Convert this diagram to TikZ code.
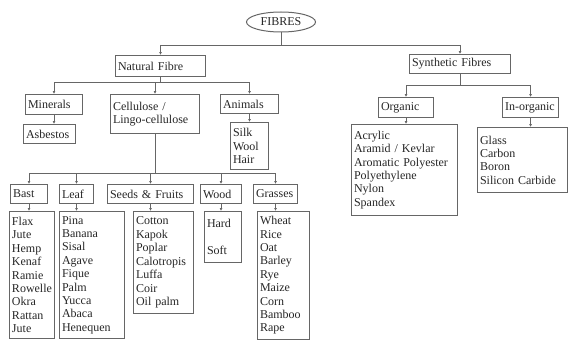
\documentclass[tikz,border=0pt]{standalone}
\usepackage{fontspec}
\setmainfont{Liberation Serif}
\usetikzlibrary{arrows.meta, shapes.geometric}

\begin{document}
\begin{tikzpicture}[x=1pt, y=-1pt, >={Latex[length=3pt, width=3pt]},
  box/.style={draw=black!60, line width=1pt, anchor=north west, align=left,
    inner xsep=2.5pt, inner ysep=1pt, font=\fontsize{12}{13.4}\selectfont, text=black!85},
  conn/.style={black!60, line width=0.8pt}]
  \useasboundingbox (0,0) rectangle (569,345);
  % raiz
  \node[ellipse, draw=black!60, line width=1pt, minimum width=69pt, minimum height=20pt,
    inner sep=0pt, font=\fontsize{12}{13.4}\selectfont, text=black!85] (fib) at (281,22) {FIBRES};
  % primer nivel
  \node[box, text width=85pt, minimum height=21pt] (nat) at (115,55) {Natural Fibre};
  \node[box, text width=96pt, minimum height=19pt] (syn) at (409,54) {Synthetic Fibres};
  % fibras naturales
  \node[box, text width=52pt, minimum height=20pt] (min) at (25,94) {Minerals};
  \node[box, text width=84pt, minimum height=39pt] (cel) at (110,94) {Cellulose /\\Lingo-cellulose};
  \node[box, text width=53pt, minimum height=19pt] (ani) at (220,94) {Animals};
  \node[box, text width=47pt, minimum height=19pt] (asb) at (23,124) {Asbestos};
  \node[box, text width=33pt, minimum height=47pt] (silk) at (230,122) {Silk\\Wool\\Hair};
  \node[box, text width=32pt, minimum height=19pt] (bast) at (10,184) {Bast};
  \node[box, text width=29pt, minimum height=19pt] (leaf) at (59,184) {Leaf};
  \node[box, text width=81pt, minimum height=19pt] (seed) at (107,184) {Seeds \& Fruits};
  \node[box, text width=36pt, minimum height=19pt] (wood) at (200,184) {Wood};
  \node[box, text width=39pt, minimum height=19pt] (gras) at (253,184) {Grasses};
  \node[box, text width=40pt, minimum height=127pt] (bastl) at (9,211)
    {Flax\\Jute\\Hemp\\Kenaf\\Ramie\\Rowelle\\Okra\\Rattan\\Jute};
  \node[box, text width=60pt, minimum height=127pt] (leafl) at (59,211)
    {Pina\\Banana\\Sisal\\Agave\\Fique\\Palm\\Yucca\\Abaca\\Henequen};
  \node[box, text width=55pt, minimum height=102pt] (seedl) at (133,211)
    {Cotton\\Kapok\\Poplar\\Calotropis\\Luffa\\Coir\\Oil palm};
  \node[box, text width=32pt, minimum height=51pt] (woodl) at (204,211) {Hard\\[13.4pt]Soft};
  \node[box, text width=47pt, minimum height=128pt] (grasl) at (257,211)
    {Wheat\\Rice\\Oat\\Barley\\Rye\\Maize\\Corn\\Bamboo\\Rape};
  % fibras sinteticas
  \node[box, text width=50pt, minimum height=20pt] (org) at (378,97) {Organic};
  \node[box, text width=51pt, minimum height=20pt] (ino) at (502,97) {In-organic};
  \node[box, text width=101pt, minimum height=91pt] (orgl) at (351,124)
    {Acrylic\\Aramid / Kevlar\\Aromatic Polyester\\Polyethylene\\Nylon\\Spandex};
  \node[box, text width=85pt, minimum height=65pt] (inol) at (477,127)
    {Glass\\Carbon\\Boron\\Silicon Carbide};
  % barras de conexion
  \coordinate (b0) at (0,45);
  \coordinate (b1) at (0,82);
  \coordinate (b2) at (0,173);
  \coordinate (b3) at (0,85);
  \draw[conn] (fib) -- (fib |- b0);
  \draw[conn] (nat |- b0) -- (syn |- b0);
  \foreach \n in {nat, syn} \draw[conn,->] (\n |- b0) -- (\n);
  \draw[conn] (nat) -- (nat |- b1);
  \draw[conn] (min |- b1) -- (ani |- b1);
  \foreach \n in {min, cel, ani} \draw[conn,->] (\n |- b1) -- (\n);
  \draw[conn] (cel) -- (cel |- b2);
  \draw[conn] (bast |- b2) -- (gras |- b2);
  \foreach \n in {bast, leaf, seed, wood, gras} \draw[conn,->] (\n |- b2) -- (\n);
  \draw[conn] (syn) -- (syn |- b3);
  \draw[conn] (org |- b3) -- (ino |- b3);
  \foreach \n in {org, ino} \draw[conn,->] (\n |- b3) -- (\n);
  % flechas hacia las listas
  \foreach \a/\b in {min/asb, ani/silk, org/orgl, ino/inol, bast/bastl, leaf/leafl,
    seed/seedl, wood/woodl, gras/grasl}
    \draw[conn,->] (\a.south) -- (\a.south |- \b.north);
\end{tikzpicture}
\end{document}
